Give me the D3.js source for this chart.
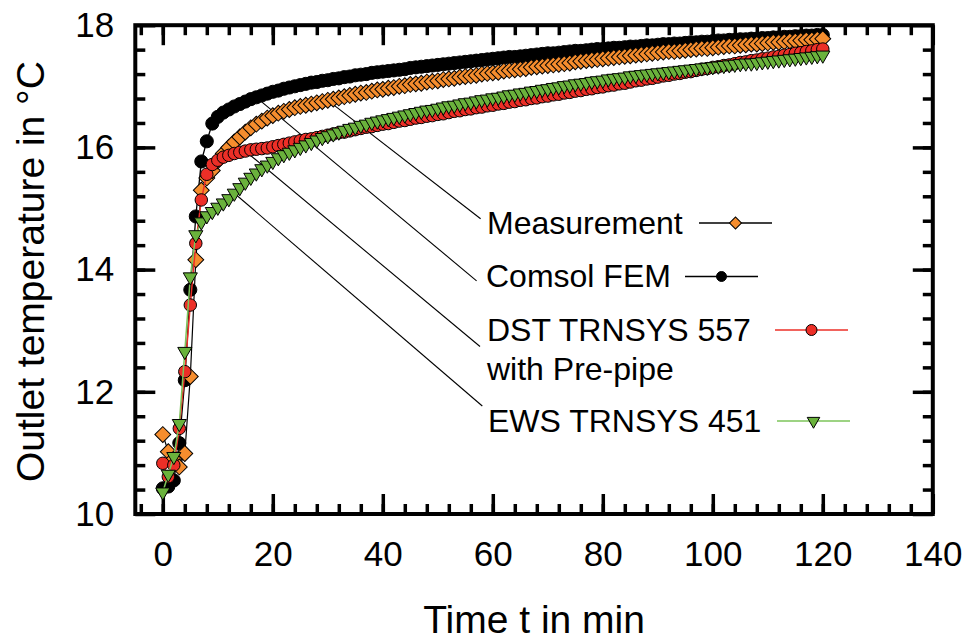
<!DOCTYPE html>
<html>
<head>
<meta charset="utf-8">
<script src="https://cdn.jsdelivr.net/npm/d3@7"></script>
<style>
  html, body { margin: 0; padding: 0; background: #fff; }
  svg { display: block; font-family: "Liberation Sans", Arial, sans-serif; }
</style>
</head>
<body>
<svg id="chart" width="967" height="641"></svg>
<script>
// Time axis: one sample per minute, 0 … 120 min
const minutes = d3.range(0, 121);

// Outlet temperature in °C
const measurement = [
  11.30, 11.02, 10.90, 10.77, 10.99, 12.25, 14.16, 15.30, 15.50, 15.62,
  15.78, 15.90, 16.00, 16.09, 16.17, 16.25, 16.32, 16.38, 16.43, 16.48,
  16.52, 16.56, 16.59, 16.62, 16.65, 16.67, 16.69, 16.71, 16.73, 16.75,
  16.77, 16.79, 16.81, 16.83, 16.85, 16.87, 16.89, 16.90, 16.92, 16.94,
  16.95, 16.97, 16.98, 17.00, 17.01, 17.03, 17.04, 17.05, 17.07, 17.08,
  17.09, 17.11, 17.12, 17.13, 17.15, 17.16, 17.17, 17.18, 17.20, 17.21,
  17.22, 17.23, 17.25, 17.26, 17.27, 17.28, 17.29, 17.31, 17.32, 17.33,
  17.34, 17.35, 17.36, 17.37, 17.38, 17.40, 17.41, 17.42, 17.43, 17.44,
  17.45, 17.46, 17.47, 17.48, 17.49, 17.50, 17.51, 17.52, 17.53, 17.54,
  17.55, 17.56, 17.57, 17.57, 17.58, 17.59, 17.60, 17.61, 17.62, 17.62,
  17.63, 17.64, 17.65, 17.66, 17.66, 17.67, 17.68, 17.69, 17.69, 17.70,
  17.71, 17.72, 17.72, 17.73, 17.74, 17.74, 17.75, 17.76, 17.76, 17.77,
  17.78
];

const comsolFem = [
  10.42, 10.45, 10.55, 11.16, 12.19, 13.67, 14.87, 15.77, 16.10, 16.39,
  16.50, 16.57, 16.62, 16.67, 16.71, 16.75, 16.79, 16.82, 16.85, 16.88,
  16.91, 16.93, 16.96, 16.98, 17.00, 17.02, 17.04, 17.06, 17.07, 17.09,
  17.10, 17.12, 17.13, 17.15, 17.16, 17.18, 17.19, 17.20, 17.22, 17.23,
  17.24, 17.25, 17.26, 17.27, 17.28, 17.30, 17.31, 17.32, 17.33, 17.34,
  17.35, 17.36, 17.37, 17.38, 17.39, 17.40, 17.41, 17.42, 17.43, 17.44,
  17.45, 17.46, 17.47, 17.48, 17.48, 17.49, 17.50, 17.51, 17.52, 17.53,
  17.54, 17.54, 17.55, 17.56, 17.57, 17.58, 17.58, 17.59, 17.60, 17.61,
  17.61, 17.62, 17.63, 17.63, 17.64, 17.65, 17.65, 17.66, 17.67, 17.67,
  17.68, 17.69, 17.69, 17.70, 17.70, 17.71, 17.72, 17.72, 17.73, 17.73,
  17.74, 17.75, 17.75, 17.76, 17.76, 17.77, 17.77, 17.78, 17.78, 17.79,
  17.79, 17.80, 17.80, 17.81, 17.81, 17.82, 17.82, 17.83, 17.83, 17.84,
  17.84
];

const dstTrnsys557 = [
  10.83, 10.61, 10.80, 11.40, 12.33, 13.42, 14.43, 15.14, 15.56, 15.72,
  15.79, 15.84, 15.87, 15.90, 15.92, 15.94, 15.96, 15.97, 15.98, 15.99,
  16.01, 16.03, 16.05, 16.07, 16.09, 16.11, 16.13, 16.14, 16.16, 16.18,
  16.20, 16.22, 16.24, 16.25, 16.27, 16.29, 16.31, 16.33, 16.34, 16.36,
  16.38, 16.39, 16.41, 16.43, 16.44, 16.46, 16.48, 16.49, 16.51, 16.52,
  16.54, 16.55, 16.57, 16.59, 16.60, 16.62, 16.63, 16.65, 16.66, 16.68,
  16.69, 16.71, 16.72, 16.74, 16.75, 16.77, 16.78, 16.80, 16.81, 16.83,
  16.84, 16.86, 16.87, 16.89, 16.90, 16.92, 16.93, 16.95, 16.96, 16.98,
  16.99, 17.01, 17.02, 17.04, 17.05, 17.07, 17.09, 17.10, 17.12, 17.13,
  17.15, 17.17, 17.18, 17.20, 17.21, 17.23, 17.24, 17.26, 17.28, 17.29,
  17.31, 17.32, 17.34, 17.35, 17.37, 17.39, 17.40, 17.42, 17.43, 17.45,
  17.46, 17.48, 17.49, 17.51, 17.52, 17.54, 17.55, 17.57, 17.58, 17.60,
  17.61
];

const ewsTrnsys451 = [
  10.36, 10.65, 10.94, 11.48, 12.66, 13.88, 14.57, 14.78, 14.88, 14.95,
  15.02, 15.09, 15.16, 15.25, 15.34, 15.43, 15.51, 15.58, 15.65, 15.71,
  15.77, 15.83, 15.88, 15.92, 15.96, 16.00, 16.04, 16.08, 16.12, 16.16,
  16.19, 16.22, 16.25, 16.28, 16.31, 16.33, 16.36, 16.38, 16.41, 16.43,
  16.45, 16.47, 16.49, 16.51, 16.53, 16.55, 16.57, 16.59, 16.61, 16.62,
  16.64, 16.66, 16.68, 16.69, 16.71, 16.73, 16.74, 16.76, 16.78, 16.79,
  16.81, 16.82, 16.84, 16.86, 16.87, 16.89, 16.90, 16.92, 16.93, 16.95,
  16.96, 16.98, 16.99, 17.01, 17.02, 17.04, 17.05, 17.06, 17.08, 17.09,
  17.10, 17.12, 17.13, 17.14, 17.15, 17.17, 17.18, 17.19, 17.20, 17.21,
  17.22, 17.23, 17.24, 17.25, 17.26, 17.27, 17.28, 17.29, 17.30, 17.31,
  17.32, 17.33, 17.34, 17.35, 17.36, 17.37, 17.38, 17.38, 17.39, 17.40,
  17.41, 17.42, 17.43, 17.44, 17.45, 17.46, 17.47, 17.48, 17.49, 17.50,
  17.51
];

// Axis ticks
const xMajorTicks = [0, 20, 40, 60, 80, 100, 120, 140];
const xMinorTicks = d3.range(-4, 140, 4);
const yMajorTicks = [10, 12, 14, 16, 18];
const yMinorTicks = d3.range(10.4, 18, 0.4).map(v => +v.toFixed(1));

// Legend labels (text lines) and the minute at which each leader touches its curve
const legendLabels = [
  ["Measurement"],
  ["Comsol FEM"],
  ["DST TRNSYS 557", "with Pre-pipe"],
  ["EWS TRNSYS 451"]
];
const leaderMinutes = [30, 17, 15, 13];

// ---------------------------------------------------------------------------
const svg = d3.select("#chart");
const plot = { left: 135.3, right: 932.8, top: 25.2, bottom: 514 };

const x = d3.scaleLinear().domain([-5, 140]).range([plot.left, plot.right]);
const y = d3.scaleLinear().domain([10, 18]).range([plot.bottom, plot.top]);

const TICK_W = 3.5;
const MAJOR = 20, MINOR = 10;

function styleAxis(g) {
  g.select(".domain").remove();
  g.selectAll(".tick line").attr("stroke", "#000").attr("stroke-width", TICK_W);
  g.selectAll(".tick text")
    .attr("fill", "#000")
    .attr("font-size", 35)
    .attr("font-family", '"Liberation Sans", Arial, sans-serif');
}

// inward-facing ticks on all four sides
const axes = svg.append("g").attr("class", "axes");
const fmt = d3.format("d");

axes.append("g").attr("transform", `translate(0,${plot.bottom})`)
  .call(d3.axisBottom(x).tickValues(xMinorTicks).tickSizeInner(-MINOR).tickSizeOuter(0).tickFormat(""))
  .call(styleAxis);
axes.append("g").attr("transform", `translate(0,${plot.bottom})`)
  .call(d3.axisBottom(x).tickValues(xMajorTicks).tickSizeInner(-MAJOR).tickSizeOuter(0).tickPadding(27).tickFormat(fmt))
  .call(styleAxis);
axes.append("g").attr("transform", `translate(0,${plot.top})`)
  .call(d3.axisTop(x).tickValues(xMinorTicks).tickSizeInner(-MINOR).tickSizeOuter(0).tickFormat(""))
  .call(styleAxis);
axes.append("g").attr("transform", `translate(0,${plot.top})`)
  .call(d3.axisTop(x).tickValues(xMajorTicks).tickSizeInner(-MAJOR).tickSizeOuter(0).tickFormat(""))
  .call(styleAxis);

axes.append("g").attr("transform", `translate(${plot.left},0)`)
  .call(d3.axisLeft(y).tickValues(yMinorTicks).tickSizeInner(-MINOR).tickSizeOuter(0).tickFormat(""))
  .call(styleAxis);
axes.append("g").attr("transform", `translate(${plot.left},0)`)
  .call(d3.axisLeft(y).tickValues(yMajorTicks).tickSizeInner(-MAJOR).tickSizeOuter(0).tickPadding(21).tickFormat(fmt))
  .call(styleAxis);
axes.append("g").attr("transform", `translate(${plot.right},0)`)
  .call(d3.axisRight(y).tickValues(yMinorTicks).tickSizeInner(-MINOR).tickSizeOuter(0).tickFormat(""))
  .call(styleAxis);
axes.append("g").attr("transform", `translate(${plot.right},0)`)
  .call(d3.axisRight(y).tickValues(yMajorTicks).tickSizeInner(-MAJOR).tickSizeOuter(0).tickFormat(""))
  .call(styleAxis);

// frame
svg.append("rect")
  .attr("x", plot.left).attr("y", plot.top)
  .attr("width", plot.right - plot.left).attr("height", plot.bottom - plot.top)
  .attr("fill", "none").attr("stroke", "#000").attr("stroke-width", 4);

// axis titles
svg.append("text")
  .attr("x", (plot.left + plot.right) / 2).attr("y", 633)
  .attr("text-anchor", "middle").attr("font-size", 39)
  .text("Time t in min");
svg.append("text")
  .attr("transform", `translate(44,${(plot.top + plot.bottom) / 2 + 2}) rotate(-90)`)
  .attr("text-anchor", "middle").attr("font-size", 39)
  .text("Outlet temperature in °C");

// series definitions
const ORANGE = "#F58D2E", RED = "#EC2F27", GREEN = "#6AB23C", GREEN_LINE = "#7CC45A";
const series = [
  { values: comsolFem,    fill: "#000", lineColor: "#000", lineW: 1.3, shape: "circle",   size: 135, legendSize: 78 },
  { values: measurement,  fill: ORANGE, lineColor: "#000", lineW: 1.2, shape: "diamond",  size: 126, legendSize: 72 },
  { values: dstTrnsys557, fill: RED,    lineColor: RED,    lineW: 1.5, shape: "circle",   size: 122, legendSize: 95 },
  { values: ewsTrnsys451, fill: GREEN,  lineColor: GREEN_LINE, lineW: 1.5, shape: "triangle", size: 86, legendSize: 68 }
];

function symbolPath(shape, size) {
  if (shape === "circle") return d3.symbol(d3.symbolCircle, size)();
  if (shape === "diamond") return d3.symbol(d3.symbolSquare, size)();
  return d3.symbol(d3.symbolTriangle, size)();
}
function symbolRotation(shape) {
  if (shape === "diamond") return 45;
  if (shape === "triangle") return 180;
  return 0;
}

// legend rows: label position and key line extent, in legend order
const legendRows = [
  { series: 1, tx: 487, ty: 234, ky: 223, kx0: 699, kx1: 772, lead: [480.6, 218.8] },
  { series: 0, tx: 486, ty: 287, ky: 276.5, kx0: 685, kx1: 758, lead: [476.6, 280.8] },
  { series: 2, tx: 487, ty: 341, ky: 330, kx0: 775, kx1: 848, lead: [480, 346.5] },
  { series: 3, tx: 488, ty: 431.5, ky: 421, kx0: 777, kx1: 850, lead: [482.3, 406] }
];

// leader lines from each curve to its label (drawn beneath the markers)
const leaders = svg.append("g").attr("class", "leaders");
legendRows.forEach((row, i) => {
  const s = series[row.series];
  const t = leaderMinutes[i];
  leaders.append("line")
    .attr("x1", x(t)).attr("y1", y(s.values[minutes.indexOf(t)]))
    .attr("x2", row.lead[0]).attr("y2", row.lead[1])
    .attr("stroke", "#000").attr("stroke-width", 1.1);
});

// curves and markers
const line = d3.line().x((d, i) => x(minutes[i])).y(d => y(d));
const marks = svg.append("g").attr("class", "series");
series.forEach(s => {
  const g = marks.append("g");
  g.append("path")
    .attr("d", line(s.values))
    .attr("fill", "none").attr("stroke", s.lineColor).attr("stroke-width", s.lineW);
  const path = symbolPath(s.shape, s.size);
  const rot = symbolRotation(s.shape);
  g.selectAll("path.pt").data(s.values).join("path")
    .attr("class", "pt")
    .attr("d", path)
    .attr("transform", (d, i) => `translate(${x(minutes[i])},${y(d)}) rotate(${rot})`)
    .attr("fill", s.fill).attr("stroke", "#000").attr("stroke-width", 1);
});

// legend
const legend = svg.append("g").attr("class", "legend");
legendRows.forEach((row, i) => {
  const s = series[row.series];
  const lines = legendLabels[i];
  lines.forEach((txt, k) => {
    legend.append("text")
      .attr("x", row.tx).attr("y", row.ty + k * 39)
      .attr("font-size", 32).attr("fill", "#000")
      .text(txt);
  });
  legend.append("line")
    .attr("x1", row.kx0).attr("x2", row.kx1).attr("y1", row.ky).attr("y2", row.ky)
    .attr("stroke", s.lineColor).attr("stroke-width", 1.4);
  legend.append("path")
    .attr("d", symbolPath(s.shape, s.legendSize))
    .attr("transform", `translate(${(row.kx0 + row.kx1) / 2},${row.ky}) rotate(${symbolRotation(s.shape)})`)
    .attr("fill", s.fill).attr("stroke", "#000").attr("stroke-width", 1);
});
</script>
</body>
</html>
